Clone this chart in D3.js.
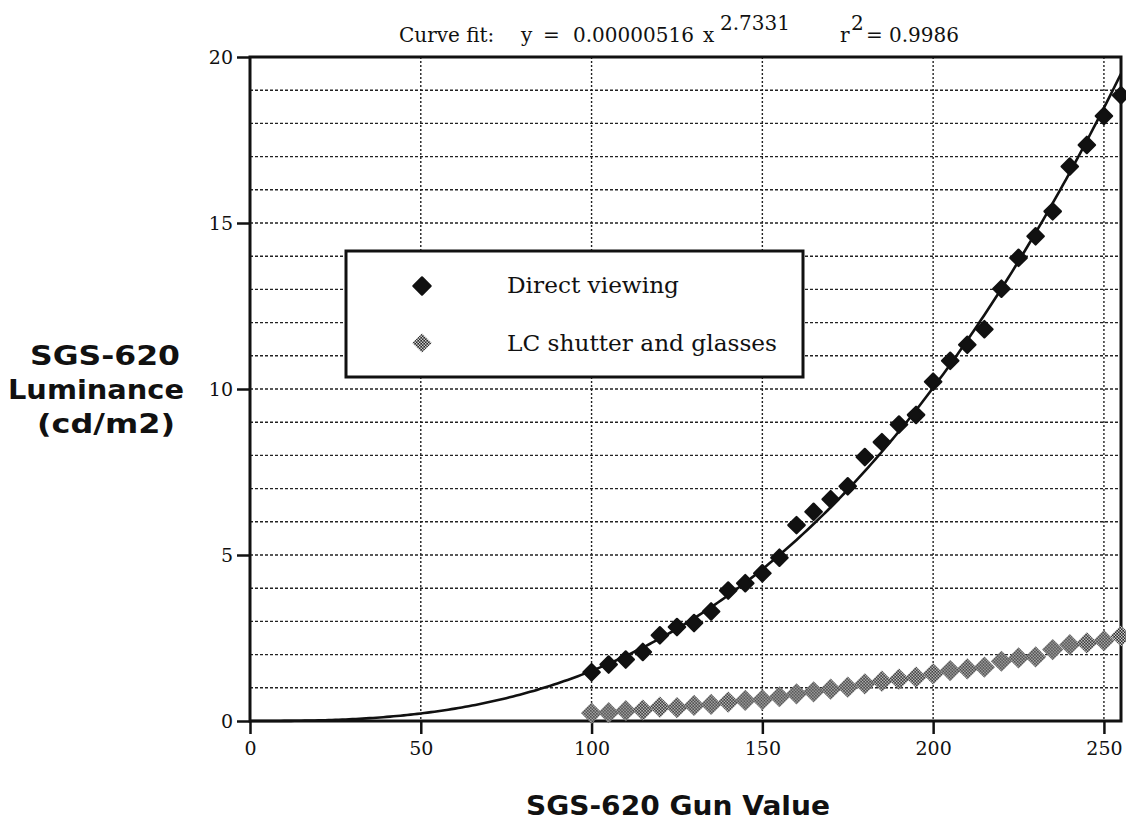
<!doctype html>
<html>
<head>
<meta charset="utf-8" />
<title>SGS-620 Luminance</title>
<script src="https://cdn.jsdelivr.net/npm/d3@7"></script>
<style>
  html, body { margin: 0; padding: 0; background: #fff; }
  svg { display: block; }
</style>
</head>
<body>
<script>
// gun values sampled every 5 from 100 to 255
const gunValues = [100,105,110,115,120,125,130,135,140,145,150,155,160,165,170,175,
                   180,185,190,195,200,205,210,215,220,225,230,235,240,245,250,255];
const directViewing = [1.47,1.70,1.85,2.08,2.58,2.83,2.95,3.30,3.93,4.15,4.45,4.92,
                       5.90,6.30,6.68,7.07,7.95,8.40,8.93,9.22,10.22,10.85,11.33,11.80,
                       13.02,13.95,14.60,15.35,16.70,17.35,18.22,18.85];
const lcShutter = [0.24,0.25,0.31,0.33,0.42,0.40,0.47,0.50,0.57,0.62,0.64,0.73,
                   0.82,0.88,0.96,1.02,1.12,1.20,1.26,1.32,1.42,1.52,1.57,1.62,
                   1.80,1.90,1.93,2.15,2.30,2.35,2.42,2.56];
const xTicks = [0,50,100,150,200,250];
const yTicks = [0,5,10,15,20];
const legendLabels = ["Direct viewing", "LC shutter and glasses"];
const fitA = 0.00000516, fitB = 2.7331;

const W = 1126, H = 823;
const x = d3.scaleLinear().domain([0, 255]).range([250, 1121]);
const y = d3.scaleLinear().domain([0, 20]).range([721, 57]);

const svg = d3.select("body").append("svg")
  .attr("width", W).attr("height", H)
  .style("font-family", "'DejaVu Serif', serif");

// dithered grey fill for the LC series
const defs = svg.append("defs");
const pat = defs.append("pattern")
  .attr("id", "dither")
  .attr("patternUnits", "userSpaceOnUse")
  .attr("width", 3).attr("height", 3)
  .attr("patternTransform", "rotate(45)");
pat.append("rect").attr("width", 3).attr("height", 3).attr("fill", "#cfcfcf");
pat.append("rect").attr("width", 1.6).attr("height", 1.6).attr("fill", "#2a2a2a");
pat.append("rect").attr("x", 1.5).attr("y", 1.5).attr("width", 1.5).attr("height", 1.5).attr("fill", "#2a2a2a");

// horizontal grid every 1 unit
const g = svg.append("g");
g.selectAll("line.hg")
  .data(d3.range(1, 20))
  .join("line")
  .attr("x1", x(0)).attr("x2", x(255))
  .attr("y1", d => y(d)).attr("y2", d => y(d))
  .attr("stroke", "#222").attr("stroke-width", 1.4)
  .attr("stroke-dasharray", "3,2");

// vertical grid at ticks
g.selectAll("line.vg")
  .data(xTicks.slice(1))
  .join("line")
  .attr("x1", d => x(d)).attr("x2", d => x(d))
  .attr("y1", y(20)).attr("y2", y(0))
  .attr("stroke", "#222").attr("stroke-width", 1.4)
  .attr("stroke-dasharray", "2,2");

// axes
const xAxis = d3.axisBottom(x).tickValues(xTicks).tickSize(13).tickSizeOuter(0).tickPadding(8);
const yAxis = d3.axisLeft(y).tickValues(yTicks).tickSize(13).tickSizeOuter(0).tickPadding(4);

const gx = svg.append("g").attr("transform", `translate(0,${y(0)})`).call(xAxis);
const gy = svg.append("g").attr("transform", `translate(${x(0)},0)`).call(yAxis);
[gx, gy].forEach(a => {
  a.select(".domain").remove();
  a.selectAll(".tick line").attr("stroke", "#111").attr("stroke-width", 2.5);
  a.selectAll(".tick text").attr("fill", "#111")
    .style("font-family", "'DejaVu Serif', serif").style("font-size", "19px");
});

// frame
svg.append("rect")
  .attr("x", x(0)).attr("y", y(20))
  .attr("width", x(255) - x(0)).attr("height", y(0) - y(20))
  .attr("fill", "none").attr("stroke", "#111").attr("stroke-width", 3);

// fitted curve
const curvePts = d3.range(0, 255.5, 1).map(v => [v, fitA * Math.pow(v, fitB)]);
svg.append("path")
  .datum(curvePts)
  .attr("d", d3.line().x(d => x(d[0])).y(d => y(d[1])))
  .attr("fill", "none").attr("stroke", "#111").attr("stroke-width", 2.6);

// markers
const sq = d3.symbol().type(d3.symbolSquare);
svg.append("g").selectAll("path")
  .data(gunValues.map((v, i) => [v, lcShutter[i]]))
  .join("path")
  .attr("d", sq.size(225)())
  .attr("transform", d => `translate(${x(d[0])},${y(d[1])}) rotate(45)`)
  .attr("fill", "url(#dither)");

svg.append("g").selectAll("path")
  .data(gunValues.map((v, i) => [v, directViewing[i]]))
  .join("path")
  .attr("d", sq.size(135)())
  .attr("transform", d => `translate(${x(d[0])},${y(d[1])}) rotate(45)`)
  .attr("fill", "#111").attr("stroke", "#111")
  .attr("stroke-width", 2.2).attr("stroke-linejoin", "round");

// legend
const lg = svg.append("g");
lg.append("rect")
  .attr("x", 346).attr("y", 251).attr("width", 457).attr("height", 126)
  .attr("fill", "#fff").attr("stroke", "#111").attr("stroke-width", 3);
lg.append("path")
  .attr("d", sq.size(150)())
  .attr("transform", "translate(422,286) rotate(45)")
  .attr("fill", "#111").attr("stroke", "#111")
  .attr("stroke-width", 2.2).attr("stroke-linejoin", "round");
lg.append("path")
  .attr("d", sq.size(185)())
  .attr("transform", "translate(422,343) rotate(45)")
  .attr("fill", "url(#dither)");
const legendWidths = [172, 270];
lg.selectAll("text")
  .data(legendLabels)
  .join("text")
  .attr("x", 507).attr("y", (d, i) => 293 + i * 58)
  .attr("fill", "#111").style("font-size", "22px")
  .attr("textLength", (d, i) => legendWidths[i])
  .attr("lengthAdjust", "spacingAndGlyphs")
  .text(d => d);

// title, placed piece by piece
const titleParts = [
  { x: 399, sup: false, s: "Curve fit:" },
  { x: 521, sup: false, s: "y" },
  { x: 543, sup: false, s: "=" },
  { x: 573, sup: false, s: "0.00000516" },
  { x: 703, sup: false, s: "x" },
  { x: 720, sup: true,  s: "2.7331" },
  { x: 840, sup: false, s: "r" },
  { x: 851, sup: true,  s: "2" },
  { x: 866, sup: false, s: "=" },
  { x: 889, sup: false, s: "0.9986" }
];
svg.append("g").selectAll("text")
  .data(titleParts)
  .join("text")
  .attr("x", d => d.x).attr("y", d => d.sup ? 30 : 42)
  .attr("fill", "#111")
  .style("font-size", d => d.sup ? "20px" : "20px")
  .text(d => d.s);

// axis titles
const sans = "'DejaVu Sans', sans-serif";
svg.append("text")
  .attr("x", 678).attr("y", 815)
  .attr("text-anchor", "middle").attr("fill", "#111")
  .attr("textLength", 304).attr("lengthAdjust", "spacingAndGlyphs")
  .style("font-family", sans).style("font-weight", "bold").style("font-size", "26px")
  .text("SGS-620 Gun Value");

const yTitle = ["SGS-620", "Luminance", "(cd/m2)"];
const yTitleX = [105, 96, 106];
const yTitleW = [150, 176, 138];
svg.append("g").selectAll("text")
  .data(yTitle)
  .join("text")
  .attr("x", (d, i) => yTitleX[i]).attr("y", (d, i) => 365 + i * 34)
  .attr("text-anchor", "middle").attr("fill", "#111")
  .attr("textLength", (d, i) => yTitleW[i]).attr("lengthAdjust", "spacingAndGlyphs")
  .style("font-family", sans).style("font-weight", "bold").style("font-size", "26px")
  .text(d => d);
</script>
</body>
</html>
